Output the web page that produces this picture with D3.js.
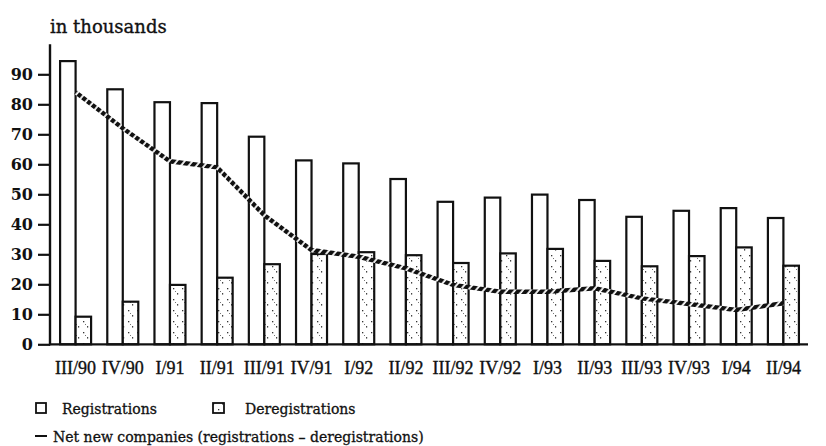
<!DOCTYPE html>
<html>
<head>
<meta charset="utf-8">
<script src="https://cdn.jsdelivr.net/npm/d3@7"></script>
<style>
  html, body { margin: 0; padding: 0; background: #fff; }
  svg { display: block; }
</style>
</head>
<body>
<svg id="chart" width="826" height="446"></svg>
<script>
const quarters = ["III/90","IV/90","I/91","II/91","III/91","IV/91","I/92","II/92","III/92","IV/92","I/93","II/93","III/93","IV/93","I/94","II/94"];
const registrations = [94.4, 85, 80.7, 80.4, 69.2, 61.3, 60.3, 55.1, 47.5, 48.9, 49.9, 48.1, 42.5, 44.5, 45.4, 42.1];
const deregistrations = [9.2, 14.2, 19.8, 22.2, 26.7, 30.1, 30.7, 29.7, 27.1, 30.3, 31.8, 27.8, 26.0, 29.4, 32.3, 26.2];
const netNew = [84, 72, 61, 59, 43, 31.4, 29.2, 25.3, 19.8, 17.5, 17.5, 18.7, 15.3, 13.4, 11.4, 13.7];
const yTicks = [0, 10, 20, 30, 40, 50, 60, 70, 80, 90];

const svg = d3.select("#chart");
const defs = svg.append("defs");

// speckle pattern for deregistrations
const sp = defs.append("pattern").attr("id", "speckle").attr("patternUnits", "userSpaceOnUse")
  .attr("width", 9).attr("height", 11);
sp.append("rect").attr("width", 9).attr("height", 11).attr("fill", "#fff");
sp.append("rect").attr("x", 2).attr("y", 2).attr("width", 1.3).attr("height", 1.3).attr("fill", "#333");
sp.append("rect").attr("x", 6).attr("y", 7).attr("width", 1.2).attr("height", 1.6).attr("fill", "#444");
sp.append("rect").attr("x", 4).attr("y", 5).attr("width", 1).attr("height", 1).attr("fill", "#777");

// hatch pattern for net line
const hp = defs.append("pattern").attr("id", "hatch").attr("patternUnits", "userSpaceOnUse")
  .attr("width", 6).attr("height", 6).attr("patternTransform", "rotate(40)");
hp.append("rect").attr("width", 6).attr("height", 6).attr("fill", "#fff");
hp.append("rect").attr("width", 4.2).attr("height", 6).attr("fill", "#111");

const x = d3.scaleBand().domain(quarters).range([52, 807]).paddingInner(0).paddingOuter(0);
const y = d3.scaleLinear().domain([0, 100]).range([344.3, 44.3]);
const barW = 15.5;
const cx = q => x(q) + x.bandwidth() / 2;
const ink = "#111";

// title
svg.append("text").attr("x", 50).attr("y", 33)
  .attr("font-family", "DejaVu Serif").attr("font-size", 18).attr("fill", ink)
  .attr("stroke", ink).attr("stroke-width", 0.35)
  .text("in thousands");

// bars
const g = svg.append("g");
g.selectAll("rect.reg").data(quarters).join("rect").attr("class", "reg")
  .attr("x", q => cx(q) - barW).attr("width", barW)
  .attr("y", (q, i) => y(registrations[i])).attr("height", (q, i) => y(0) - y(registrations[i]))
  .attr("fill", "#fff").attr("stroke", ink).attr("stroke-width", 2.2);
g.selectAll("rect.dereg").data(quarters).join("rect").attr("class", "dereg")
  .attr("x", q => cx(q)).attr("width", barW)
  .attr("y", (q, i) => y(deregistrations[i])).attr("height", (q, i) => y(0) - y(deregistrations[i]))
  .attr("fill", "url(#speckle)").attr("stroke", ink).attr("stroke-width", 2.2);

// y axis
const yAxis = d3.axisLeft(y).tickValues(yTicks).tickSize(12).tickPadding(5).tickFormat(d3.format("d"));
const ya = svg.append("g").attr("transform", "translate(50,0)").call(yAxis);
ya.select(".domain").remove();
ya.selectAll(".tick line").attr("stroke", ink).attr("stroke-width", 2.2);
ya.selectAll(".tick text").attr("font-family", "DejaVu Serif").attr("font-weight", "bold")
  .attr("font-size", 16).attr("fill", ink);
svg.append("line").attr("x1", 50).attr("x2", 50).attr("y1", y(100)).attr("y2", y(0) + 1)
  .attr("stroke", ink).attr("stroke-width", 2.4);

// x axis
const xAxis = d3.axisBottom(x).tickSize(0).tickPadding(17);
const xa = svg.append("g").attr("transform", `translate(0,${y(0)})`).call(xAxis);
xa.select(".domain").remove();
xa.selectAll(".tick text").attr("font-family", "Liberation Serif").attr("font-size", 18)
  .attr("fill", ink).attr("stroke", ink).attr("stroke-width", 0.35);
svg.append("line").attr("x1", 49).attr("x2", 808).attr("y1", y(0)).attr("y2", y(0))
  .attr("stroke", ink).attr("stroke-width", 2.2);

// net line
const line = d3.line().x((d, i) => cx(quarters[i])).y(d => y(d));
svg.append("path").datum(netNew).attr("d", line).attr("fill", "none")
  .attr("stroke", "url(#hatch)").attr("stroke-width", 4.5);

// legend
const lf = "DejaVu Serif";
const legText = (xx, yy, t) => svg.append("text").attr("x", xx).attr("y", yy)
  .attr("font-family", lf).attr("font-size", 14).attr("fill", ink)
  .attr("stroke", ink).attr("stroke-width", 0.3).text(t);
svg.append("rect").attr("x", 36).attr("y", 403).attr("width", 10).attr("height", 10)
  .attr("fill", "#fff").attr("stroke", ink).attr("stroke-width", 1.8);
legText(62, 414, "Registrations");
svg.append("rect").attr("x", 213).attr("y", 403).attr("width", 11).attr("height", 10)
  .attr("fill", "url(#speckle)").attr("stroke", ink).attr("stroke-width", 1.8);
legText(245, 414, "Deregistrations");
svg.append("line").attr("x1", 35).attr("x2", 47).attr("y1", 436).attr("y2", 436)
  .attr("stroke", ink).attr("stroke-width", 2);
legText(53, 442, "Net new companies (registrations \u2013 deregistrations)");
</script>
</body>
</html>
